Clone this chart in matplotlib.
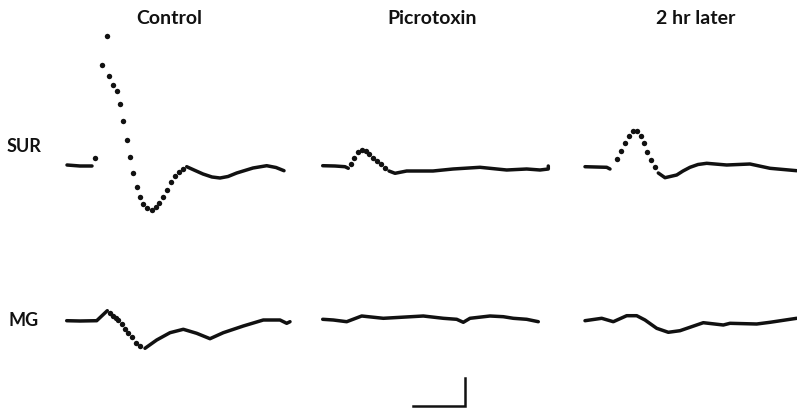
## SUR / MG field potentials: control, picrotoxin, 2 hr later ##

import matplotlib
matplotlib.use('Agg')
import matplotlib.pyplot as plt

# traces: (t, v) pairs, t = time from trace start, v = deflection above baseline
# each trace is split into a slow part (drawn as a line) and a fast part (dotted)

ctrl_sur_pre = [(1, 1), (14, 0), (26, 0)]
ctrl_sur_fast = [(29.3, 7.7), (36, 101), (40.7, 130), (43.3, 89.7), (46.7, 81.3),
                 (50.7, 75), (54, 62), (57.3, 44.7), (60.7, 26.3), (64, 9),
                 (67.3, -7.3), (70.7, -21), (74, -31.3), (77.3, -38), (81.3, -42.3),
                 (85.7, -43.7), (90, -41.3), (93, -37), (96.7, -31), (100.7, -24),
                 (105.3, -16.3), (109, -10.3), (113, -5.7), (117, -2.5)]
ctrl_sur_post = [(120.7, -0.7), (128, -4), (137, -8), (146, -11), (154, -12),
                 (162, -10.5), (170.7, -7), (187, -2), (200.7, 0.3), (210, -1.5),
                 (218, -4.7)]

picro_sur_pre = [(0.7, 0.3), (13, 0), (23, -0.7), (26.3, -2.3)]
picro_sur_fast = [(28.7, 2), (32, 7.7), (36.3, 13.7), (39.7, 16), (43.7, 15),
                  (47.3, 11.7), (51.3, 8.3), (55.3, 4.7), (59, 1.7), (63, -2.3)]
picro_sur_post = [(67, -5), (73, -7.3), (84.7, -5), (111, -5), (131, -3),
                  (158, -1.3), (184.7, -4), (204.7, -3), (218, -4), (226.3, -3),
                  (226.3, 0)]

late_sur_pre = [(1, -0.7), (22.7, -1.3), (26, -3)]
late_sur_fast = [(32.7, 7), (36.7, 14.7), (41, 23), (45, 30.3), (49.3, 34.7),
                 (53.3, 34.7), (56.7, 29.7), (60, 22.7), (63.3, 14.3), (66.7, 6),
                 (70.7, -1.3)]
late_sur_post = [(74.3, -7), (81, -11.7), (92.7, -9), (99, -5), (106, -1.3),
                 (114, 1.5), (122.7, 2.7), (142.7, 1), (166, 2), (186, -2.3),
                 (212.7, -4.7)]

ctrl_mg_pre = [(0.7, -0.7), (14, -1), (30.7, -0.7), (41.3, 9.3)]
ctrl_mg_fast = [(44.3, 7), (47.3, 4), (50, 2), (52.3, 0), (55.7, -4.3), (59, -8.7),
                (61.7, -12.7), (65.7, -17.3), (70, -22.7), (74, -26)]
ctrl_mg_post = [(79, -28.3), (90.7, -20), (104, -12.7), (117.3, -9.3), (130.7, -13.3),
                (144, -18.7), (157.3, -12.7), (177.3, -6), (197.3, 0), (214, 0),
                (220.7, -3.3), (224, -1.7)]

picro_mg = [(0.7, 0.7), (11.3, 0), (24.7, -1.7), (39.7, 4), (61.3, 1.7), (101.3, 4),
            (121.3, 1.7), (134.7, 0.7), (141.3, -2.3), (148, 1.7), (168, 4),
            (181.3, 3.3), (191.3, 1.7), (204.7, 0.7), (216.3, -1.7)]

late_mg = [(1, -0.7), (17.7, 1.7), (29.3, -1.7), (42.7, 4.3), (52.7, 4.3), (61, 0),
           (72.7, -8.3), (84.3, -12.3), (96, -10.7), (119.3, -2.7), (139.3, -5),
           (146, -3.3), (172.7, -4), (186, -2.3), (212.7, 1.7)]

col_titles = ['Control', 'Picrotoxin', '2 hr later']
row_labels = ['SUR', 'MG']

# layout (pixels)
col_x0 = [66, 322, 584]
row_y0 = [166, 320]
title_x = [169, 432, 696]
title_y = 18
label_x = 24
label_y = [147, 321]

ink = '#111111'

fig = plt.figure(figsize=(7.97, 4.09), dpi=100)
ax = fig.add_axes([0, 0, 1, 1])
ax.set_xlim(0, 797)
ax.set_ylim(409, 0)
ax.axis('off')


def draw(pts, x0, y0, dotted=False):
    xs = [x0 + t for t, v in pts]
    ys = [y0 - v for t, v in pts]
    if dotted:
        ax.plot(xs, ys, 'o', color=ink, ms=3.9, mec='none')
    else:
        ax.plot(xs, ys, '-', color=ink, lw=2.5, solid_capstyle='round',
                solid_joinstyle='round')


sur = [(ctrl_sur_pre, ctrl_sur_fast, ctrl_sur_post),
       (picro_sur_pre, picro_sur_fast, picro_sur_post),
       (late_sur_pre, late_sur_fast, late_sur_post)]
mg = [(ctrl_mg_pre, ctrl_mg_fast, ctrl_mg_post),
      (picro_mg, [], []),
      (late_mg, [], [])]

for row, traces in enumerate([sur, mg]):
    for col, (pre, fast, post) in enumerate(traces):
        draw(pre, col_x0[col], row_y0[row])
        if fast:
            draw(fast, col_x0[col], row_y0[row], dotted=True)
        if post:
            draw(post, col_x0[col], row_y0[row])

for i, t in enumerate(col_titles):
    ax.text(title_x[i], title_y, t, ha='center', va='center', fontsize=14,
            family='Lato', weight='bold', color=ink)
for i, t in enumerate(row_labels):
    ax.text(label_x, label_y[i], t, ha='center', va='center', fontsize=13,
            family='Lato', weight='bold', color=ink)

# scale bar
ax.plot([413, 465, 465], [406, 406, 378], '-', color=ink, lw=1.8,
        solid_joinstyle='miter')

plt.savefig('out.png', dpi=100)
